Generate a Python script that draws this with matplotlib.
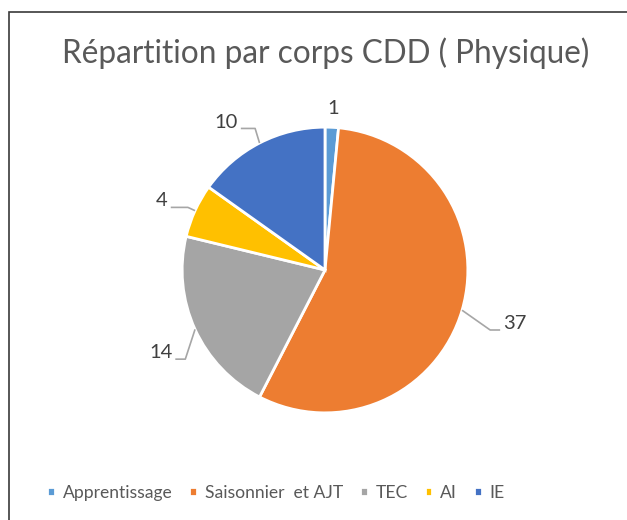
import numpy as np
import matplotlib
matplotlib.use("Agg")
import matplotlib.pyplot as plt
from matplotlib.patches import Rectangle

plt.rcParams['font.family'] = ['Lato', 'DejaVu Sans']

# donnees
categories = ["Apprentissage", "Saisonnier  et AJT", "TEC", "AI", "IE"]
valeurs = [1, 37, 14, 4, 10]
couleurs = ["#5B9BD5", "#ED7D31", "#A5A5A5", "#FFC000", "#4472C4"]
# position des etiquettes : rayon du coude, decalage d'angle et longueur du trait horizontal
rayon_coude = [1.13, 1.23, 1.16, 1.055, 1.105]
decal_angle = [0, -3.6, 8, 0, -1]
long_horiz = [0.0, 0.07, 0.07, 0.12, 0.1]

fig = plt.figure(figsize=(6.27, 5.2), dpi=100)

# cadre
fig.patches.append(Rectangle((9/627, -0.1), 1.2, 1 - 12/520 + 0.1, transform=fig.transFigure,
                             fill=False, edgecolor="#3a3a3a", linewidth=1.2))

fig.text(0.519, 0.897, "Répartition par corps CDD ( Physique)", ha="center", va="center",
         fontsize=22.7, color="#595959")

ax = fig.add_axes([(325 - 200)/627, 50/520, 400/627, 400/520])
wedges, _ = ax.pie(valeurs, colors=couleurs, startangle=90, counterclock=False,
                   wedgeprops=dict(edgecolor="white", linewidth=2), radius=1)
ax.set_xlim(-1.4, 1.4)
ax.set_ylim(-1.4, 1.4)
ax.set_aspect("equal")
ax.axis("off")

total = sum(valeurs)
cumul = 0
for v, rc, da, lh in zip(valeurs, rayon_coude, decal_angle, long_horiz):
    milieu = 90 - (cumul + v/2) / total * 360
    cumul += v
    a = np.deg2rad(milieu)
    x, y = np.cos(a), np.sin(a)
    if lh == 0:
        ax.text(rc*x, rc*y, str(v), ha="center", va="center", fontsize=14.5, color="#404040")
        continue
    ac = np.deg2rad(milieu + da)
    signe = 1 if x > 0 else -1
    xc, yc = rc*np.cos(ac), rc*np.sin(ac)
    xf = xc + signe*lh
    ax.plot([1.0*x, xc, xf], [1.0*y, yc, yc], color="#A6A6A6", lw=1.2, solid_capstyle="butt")
    ax.text(xf + signe*0.02, yc + 0.045, str(v), ha="left" if signe > 0 else "right",
            va="center", fontsize=14.5, color="#404040")

fig.legend(wedges, categories, loc="center", bbox_to_anchor=(0.44, 0.052), ncol=5,
           frameon=False, fontsize=12.6, handlelength=0.45, handleheight=0.45,
           handletextpad=0.45, columnspacing=0.95, labelcolor="#595959")

fig.savefig("out.png", dpi=100)
